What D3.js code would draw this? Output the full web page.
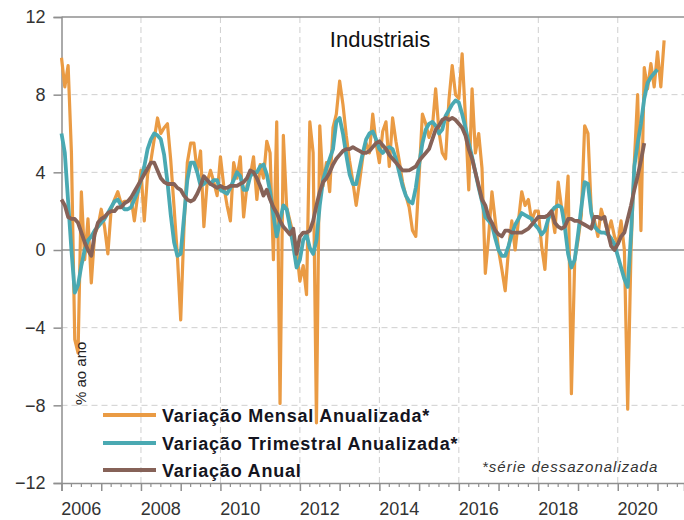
<!DOCTYPE html>
<html>
<head>
<meta charset="utf-8">
<script src="https://cdn.jsdelivr.net/npm/d3@7"></script>
<style>
  body { margin: 0; background: #fff; }
  svg { font-family: "Liberation Sans", Arial, sans-serif; }
</style>
</head>
<body>
<script>
// monthly series, first value = Jan 2006
var startYear = 2006;

var mensal = [
  9.9, 8.4, 9.5, 5.0, -4.6, -5.3, 3.0, -0.5, 1.6, -1.7, 0.8, 1.2,
  2.1, 1.2, -0.2, 2.1, 2.6, 3.0, 2.4, 2.5, 2.5, 2.7, 1.5, 2.8,
  4.1, 1.5, 3.9, 4.6, 5.7, 6.8, 6.0, 6.3, 6.5, 4.6, 2.2, -0.3,
  -3.6, 1.2, 4.5, 5.5, 5.5, 4.0, 5.1, 1.2, 3.5, 4.1, 3.5, 2.8,
  4.8, 3.3, 2.3, 1.5, 4.5, 3.7, 4.8, 1.7, 3.3, 3.8, 4.8, 2.6,
  4.4, 3.7, 5.6, 5.0, -0.5, 6.6, -7.9, 5.9, 2.2, 1.5, 0.8, 0.0,
  -1.6, -0.8, -2.3, 6.6, 5.0, -8.9, 6.4, 3.3, 4.5, 3.0, 6.3, 7.0,
  8.7, 7.5, 5.9, 4.6, 3.5, 2.3, 3.5, 4.8, 5.5, 5.0, 7.0, 5.5,
  4.5, 6.1, 6.6, 4.3, 6.8, 5.6, 4.6, 3.5, 2.8, 2.2, 1.0, 0.7,
  3.8, 7.0, 6.5, 5.8, 6.3, 8.3, 6.1, 5.0, 4.7, 7.7, 9.5, 8.0,
  7.8, 10.1, 6.8, 3.1, 8.3, 5.0, 6.0, 4.2, -1.2, 0.7, 3.0, 1.5,
  0.0, -1.0, -2.1, 0.0, 1.5, 0.0, 1.5, 3.0, 2.3, 2.6, 1.5, 2.0,
  2.0, 0.2, -1.0, 1.8, 2.0, 0.9, 3.5, 2.2, 1.5, 3.8, -7.4, -0.5,
  0.5, 1.8, 6.4, 6.0, 2.0, 1.5, 0.7, 2.1, 1.5, 0.9, 1.5, 0.7,
  0.3, 1.5, 0.0, -8.2, 0.0, 4.5, 8.0, 1.0, 9.4, 8.3, 9.6, 8.4,
  10.2, 8.4, 10.8
];

var trimestral = [
  6.0, 5.0, 2.5, 0.0, -2.2, -1.8, -0.8, 0.0, 0.5, 0.7, 1.0, 1.2,
  1.4, 1.6, 1.9, 2.2, 2.5, 2.6, 2.3, 2.1, 2.1, 2.2, 2.6, 3.0,
  3.6, 4.3, 5.2, 5.7, 6.0, 5.9, 5.7, 4.9, 3.5, 1.8, 0.4, -0.3,
  -0.2, 1.7, 3.6, 4.5, 4.5, 4.0, 3.3, 3.4, 3.6, 3.4, 3.6, 3.6,
  3.1, 3.0, 2.9, 3.2, 3.6, 4.0, 3.8, 3.1, 3.1, 3.8, 4.0, 4.0,
  4.3, 4.4, 3.9, 3.0, 1.8, 0.7, 1.5, 2.3, 2.1, 1.2, 0.2, -0.9,
  -0.5, 0.5, 0.8, 0.1, -0.2, 0.5, 2.3, 3.6, 4.2, 4.7, 5.2, 6.6,
  6.8, 6.0, 4.9, 3.9, 3.4, 3.4, 4.2, 5.0, 5.7, 6.0, 6.1, 5.7,
  5.2, 5.0, 5.2, 5.3, 5.2, 4.7, 4.0, 3.3, 2.8, 2.5, 2.4, 3.2,
  4.4, 5.5, 6.2, 6.5, 6.6, 6.4, 6.0, 6.2, 6.9, 7.2, 7.5, 7.7,
  7.6, 7.0, 6.3, 5.5, 4.8, 4.0, 3.2, 2.5, 1.7, 1.5, 1.3, 0.6,
  0.0, -0.3, -0.3, 0.2, 0.8, 1.3, 1.6, 1.9, 1.8, 1.7, 1.6, 1.3,
  1.1, 0.8, 1.0, 1.6, 2.0, 2.2, 2.3, 2.2, 1.2, -0.2, -0.9, -0.5,
  0.8, 2.2, 3.5, 3.4, 1.9, 1.2, 1.0, 0.9, 0.9, 0.8, 0.6, 0.3,
  -0.3, -0.9, -1.5, -1.9, 0.8, 4.3, 5.5, 6.5, 7.8, 8.6, 8.9, 9.1,
  9.3
];

var anual = [
  2.6, 2.3, 1.7, 1.6, 1.6, 1.4, 0.9, 0.4, 0.0, -0.3, 0.8, 1.4,
  1.6, 1.7, 1.9, 2.0, 2.0, 2.2, 2.2, 2.4, 2.5, 2.7, 3.0, 3.3,
  3.6, 3.9, 4.2, 4.5, 4.5, 4.1, 3.7, 3.5, 3.4, 3.4, 3.4, 3.2,
  3.1, 2.8, 2.6, 2.5, 2.6, 2.9, 3.3, 3.8, 3.6, 3.4, 3.3, 3.2,
  3.3, 3.2, 3.2, 3.3, 3.3, 3.3, 3.4, 3.5, 3.7, 4.1, 4.0, 3.7,
  3.3, 2.8, 3.1, 2.6, 2.2, 1.9, 1.5, 1.2, 1.0, 0.8, 1.1, -0.2,
  0.7, 0.9, 0.9, 1.0, 1.5, 2.3, 3.0, 3.5, 3.7, 4.0, 4.4, 4.7,
  4.9, 5.1, 5.2, 5.2, 5.3, 5.2, 5.1, 5.0, 5.0, 5.1, 5.3, 5.5,
  5.6, 5.4, 5.2, 4.9, 4.7, 4.5, 4.3, 4.1, 4.1, 4.1, 4.2, 4.3,
  4.6, 4.8, 5.0, 5.2, 5.7, 6.2, 6.4, 6.7, 6.8, 6.7, 6.8, 6.7,
  6.5, 6.3, 5.9, 5.2, 4.7, 4.0, 3.3, 2.6, 2.3, 1.7, 1.4, 1.0,
  0.8, 0.7, 1.0, 1.0, 0.9, 0.9, 0.9, 0.9, 1.0, 1.1, 1.3, 1.5,
  1.7, 1.7, 1.7, 1.8, 2.0, 1.4, 1.2, 1.1, 1.2, 1.6, 1.6, 1.5,
  1.5, 1.4, 1.3, 1.2, 1.1, 1.7, 1.7, 1.6, 1.7, 0.9, 0.2, 0.0,
  0.3, 0.7, 0.9, 1.6, 2.3, 3.1, 3.8, 4.6, 5.5
];

var yTicks = [-12, -8, -4, 0, 4, 8, 12];
var yearLabels = [2006, 2008, 2010, 2012, 2014, 2016, 2018, 2020];

var series = [
  { name: "Variação Mensal Anualizada*", values: mensal, color: "#EA9B44", width: 3.2 },
  { name: "Variação Trimestral Anualizada*", values: trimestral, color: "#4AA9B2", width: 3.8 },
  { name: "Variação Anual", values: anual, color: "#866258", width: 3.8 }
];

function draw() {
    var width = 684, height = 520;
    var mLeft = 61.5, mRight = 684, mTop = 17, mBottom = 483;

    var svg = d3.select("body").append("svg")
        .attr("width", width)
        .attr("height", height);

    var x = d3.scaleLinear().domain([2006, 2021.667]).range([mLeft, mRight]);
    var y = d3.scaleLinear().domain([-12, 12]).range([mBottom, mTop]);

    // horizontal grid
    svg.append("g").selectAll("line")
        .data(yTicks.filter(d => d !== 0 && Math.abs(d) !== 12))
        .enter().append("line")
        .attr("x1", mLeft).attr("x2", mRight)
        .attr("y1", d => y(d)).attr("y2", d => y(d))
        .attr("stroke", "#cfcfcf")
        .attr("stroke-width", 1)
        .attr("stroke-dasharray", "6,4");

    // vertical grid, every 2 years
    svg.append("g").selectAll("line")
        .data(d3.range(2008, 2021, 2))
        .enter().append("line")
        .attr("x1", d => x(d)).attr("x2", d => x(d))
        .attr("y1", mTop).attr("y2", mBottom)
        .attr("stroke", "#cfcfcf")
        .attr("stroke-width", 1)
        .attr("stroke-dasharray", "6,4");

    // zero line + top border
    [0, 12].forEach(function (v) {
        svg.append("line")
            .attr("x1", mLeft).attr("x2", mRight)
            .attr("y1", y(v)).attr("y2", y(v))
            .attr("stroke", "#8f8f8f").attr("stroke-width", 1.5);
    });

    // y axis
    var yAxis = svg.append("g")
        .attr("transform", "translate(" + mLeft + ",0)")
        .call(d3.axisLeft(y).tickValues(yTicks).tickSize(8).tickPadding(8).tickFormat(d3.format("d")));
    yAxis.select(".domain").attr("stroke", "#8f8f8f").attr("stroke-width", 1.5);
    yAxis.selectAll(".tick line").attr("stroke", "#8f8f8f").attr("stroke-width", 1.5);
    yAxis.selectAll("text")
        .attr("font-size", 18)
        .attr("font-family", "Liberation Sans, Arial, sans-serif")
        .attr("fill", "#333");

    // x axis: yearly ticks + quarterly minor ticks
    var xAxis = svg.append("g")
        .attr("transform", "translate(0," + mBottom + ")")
        .call(d3.axisBottom(x).tickValues(d3.range(2006, 2022)).tickSize(8).tickFormat(""));
    xAxis.select(".domain").attr("stroke", "#8f8f8f").attr("stroke-width", 1.5);
    xAxis.selectAll(".tick line").attr("stroke", "#8f8f8f").attr("stroke-width", 1.5);

    var minor = d3.range(2006, 2021.6, 0.25).filter(d => Math.abs(d - Math.round(d)) > 0.01);
    svg.append("g").selectAll("line")
        .data(minor)
        .enter().append("line")
        .attr("x1", d => x(d)).attr("x2", d => x(d))
        .attr("y1", mBottom).attr("y2", mBottom + 4)
        .attr("stroke", "#8f8f8f").attr("stroke-width", 1.2);

    svg.append("g").selectAll("text")
        .data(yearLabels)
        .enter().append("text")
        .attr("x", d => x(d + 0.5))
        .attr("y", 515)
        .attr("text-anchor", "middle")
        .attr("font-size", 18)
        .attr("fill", "#333")
        .text(d => d);

    // series lines
    var line = d3.line()
        .x((d, i) => x(startYear + i / 12))
        .y(d => y(d));

    series.forEach(function (s) {
        svg.append("path")
            .datum(s.values)
            .attr("fill", "none")
            .attr("stroke", s.color)
            .attr("stroke-width", s.width)
            .attr("stroke-linejoin", "round")
            .attr("d", line);
    });

    // title
    svg.append("text")
        .attr("x", 380).attr("y", 47)
        .attr("text-anchor", "middle")
        .attr("font-size", 22)
        .attr("fill", "#111")
        .text("Industriais");

    // unit
    svg.append("text")
        .attr("transform", "translate(86,405) rotate(-90)")
        .attr("font-size", 15)
        .attr("fill", "#222")
        .text("% ao ano");

    // legend
    var legendY = [415, 443, 470];
    series.forEach(function (s, i) {
        svg.append("line")
            .attr("x1", 103).attr("x2", 156)
            .attr("y1", legendY[i]).attr("y2", legendY[i])
            .attr("stroke", s.color)
            .attr("stroke-width", 4);
        svg.append("text")
            .attr("x", 162).attr("y", legendY[i] + 6.5)
            .attr("font-size", 18)
            .attr("font-weight", "bold")
            .attr("letter-spacing", 0.8)
            .attr("fill", "#141420")
            .text(s.name);
    });

    svg.append("text")
        .attr("x", 482).attr("y", 472)
        .attr("font-size", 15)
        .attr("font-style", "italic")
        .attr("letter-spacing", 1)
        .attr("fill", "#333")
        .text("*série dessazonalizada");
}

draw();
</script>
</body>
</html>
